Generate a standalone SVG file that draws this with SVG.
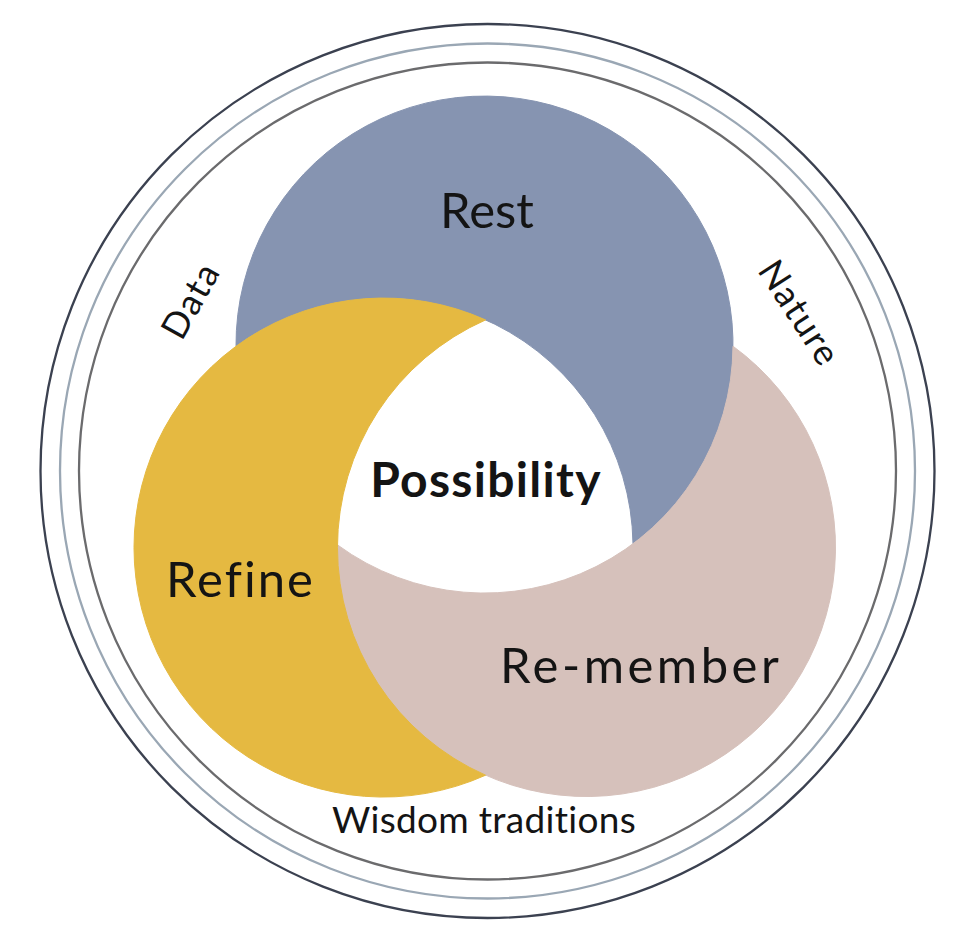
<svg xmlns="http://www.w3.org/2000/svg" width="954" height="938" viewBox="0 0 954 938">
  <style>
    .lbl { font-family: Lato, "Liberation Sans", sans-serif; fill: #141414; }
    .big { font-size: 49px; }
    .small { font-size: 36px; letter-spacing: 1.5px; }
    .ring { fill: none; stroke-width: 2.3; }
    .blue { fill: #8694b1; stroke: #8694b1; stroke-width: 1; }
    .yellow { fill: #e5b941; stroke: #e5b941; stroke-width: 1; }
    .pink { fill: #d6c1bb; stroke: #d6c1bb; stroke-width: 1; }
  </style>
  <rect width="954" height="938" fill="#ffffff"/>

  <g id="rings">
    <circle class="ring" cx="487.5" cy="471" r="447" stroke="#3b4150"/>
    <circle class="ring" cx="487.5" cy="471" r="427.5" stroke="#9aa7b4"/>
    <circle class="ring" cx="487.5" cy="471" r="408.5" stroke="#6b6b6d"/>
  </g>

  <g id="rest">
    <path class="blue" d="M236.0,346.3 A248.5,248.5 0 1 1 633.0,543.8 A249.5,249.5 0 0 0 236.0,346.3 Z"/>
    <text class="lbl big" x="487" y="228" text-anchor="middle">Rest</text>
  </g>
  <g id="remember">
    <path class="pink" d="M337.5,544.9 A249,249 0 1 0 733.0,346.2 A248.5,248.5 0 0 1 337.5,544.9 Z"/>
    <text class="lbl big" x="500" y="683" letter-spacing="3.5">Re-member</text>
  </g>
  <g id="refine">
    <path class="yellow" d="M485.6,319.9 A249.5,249.5 0 1 0 485.6,775.2 A249,249 0 0 1 485.6,319.9 Z"/>
    <text class="lbl big" x="166" y="597" letter-spacing="2">Refine</text>
  </g>
  <g id="possibility">
    <text class="lbl" x="486" y="497" font-size="48" font-weight="bold" letter-spacing="1.3" text-anchor="middle">Possibility</text>
  </g>

  <g id="context-labels">
    <text class="lbl" x="484" y="833" font-size="37" letter-spacing="0.3" text-anchor="middle">Wisdom traditions</text>
    <text class="lbl small" transform="translate(201.6,306.5) rotate(-61)" text-anchor="middle">Data</text>
    <text class="lbl small" transform="translate(789,320) rotate(57)" text-anchor="middle">Nature</text>
  </g>
</svg>
